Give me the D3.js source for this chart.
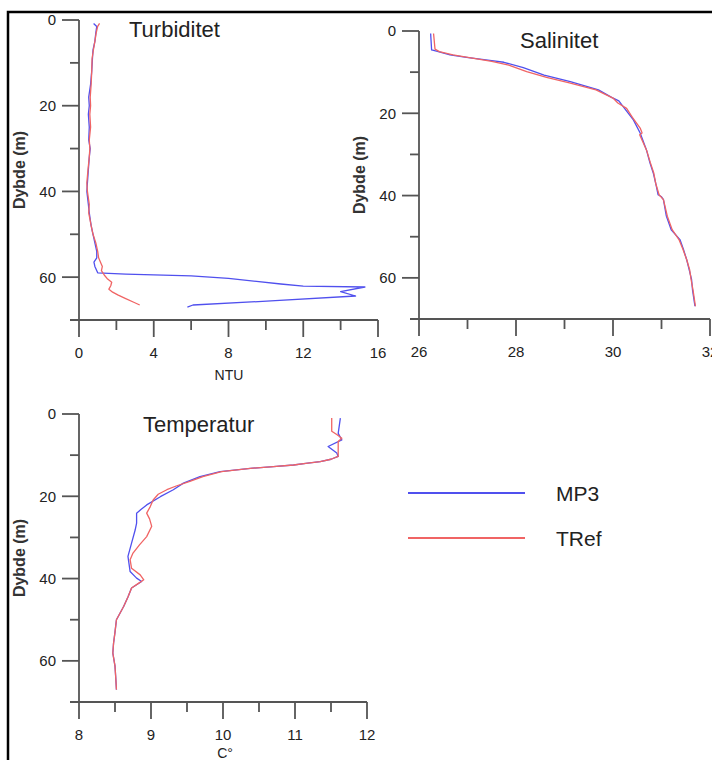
<!DOCTYPE html>
<html>
<head>
<meta charset="utf-8">
<script src="https://cdn.jsdelivr.net/npm/d3@7"></script>
<style>
body { margin: 0; background: #fff; }
text { font-family: "Liberation Sans", Arial, sans-serif; fill: #222; }
</style>
</head>
<body>
<div id="chart"></div>
<script>
// series names
var seriesNames = ["MP3", "TRef"]
var seriesColors = ["#5050ee", "#f06464"]

// Turbiditet (NTU) - depth in m
var turbDepthMP3 = [0.8,1.5,3,5,7,9,12,15,18,20,22,25,28,30,32,35,38,40,43,45,48,50,52,54,55.5,56.5,57.5,59.0,59.3,59.7,60.3,61.0,61.6,62.1,62.3,63.4,64.4,65.5,66.5,67.0]
var turbMP3 = [0.78,0.95,0.9,0.85,0.75,0.72,0.68,0.62,0.52,0.55,0.5,0.55,0.52,0.6,0.55,0.5,0.45,0.42,0.5,0.55,0.65,0.75,0.85,0.95,0.95,0.8,0.85,1.0,2.5,6.0,8.0,9.5,10.8,12.0,15.3,14.0,14.8,10.5,6.1,5.8]
var turbDepthTRef = [0.8,1.5,3,5,7,9,12,15,18,20,22,25,28,30,32,35,38,40,43,45,48,50,52,54,55.5,56.5,57.5,58.5,59.5,60.3,61.2,62,62.8,63.5,64.2,65,65.8,66.5]
var turbTRef = [1.1,1.0,0.92,0.85,0.77,0.7,0.68,0.65,0.6,0.62,0.58,0.62,0.55,0.58,0.55,0.48,0.42,0.45,0.55,0.52,0.65,0.75,0.9,1.0,1.05,1.15,1.25,1.2,1.35,1.5,1.75,1.7,1.6,1.8,2.1,2.5,2.9,3.25]

// Salinitet
var salDepthMP3 = [0.6,4.6,4.9,5.8,6.4,7.2,7.6,8.9,10.7,12.3,14.3,16.2,17.0,18.4,21.6,24.8,28.9,32,34.5,37,39.8,40.3,41,45,48.3,50.7,53,55.6,58,60.4,63,66.9]
var salMP3 = [26.24,26.26,26.36,26.64,26.98,27.5,27.75,28.15,28.58,29.12,29.7,29.98,30.12,30.21,30.42,30.56,30.69,30.76,30.83,30.88,30.93,31.0,31.04,31.1,31.2,31.38,31.45,31.52,31.57,31.62,31.64,31.69]
var salDepthTRef = [0.6,4.4,5.0,5.8,6.6,7.4,8.3,9.9,11.3,12.6,14.3,16.3,17.5,18.8,21,23.6,24.8,25.2,28.9,32,34.5,37,39.8,41,45,48.3,50.7,53,55.6,58,60.4,63,66.9]
var salTRef = [26.3,26.33,26.42,26.7,27.1,27.5,27.85,28.22,28.63,29.1,29.65,30.0,30.1,30.28,30.4,30.56,30.6,30.55,30.69,30.77,30.84,30.88,30.95,31.04,31.12,31.22,31.36,31.44,31.52,31.58,31.61,31.65,31.7]

// Temperatur
var tempDepthMP3 = [1.0,4.7,6.3,7.9,9.5,10.3,11.0,11.6,12.0,12.4,12.8,13.2,14.0,15.2,16.8,18.4,20.1,22.1,23.2,24.1,26.5,28.2,31.4,34.6,38.3,39.9,40.7,41.5,42.3,44.5,46.8,50,53,55.7,58.1,61.3,64,67]
var tempMP3 = [11.63,11.6,11.65,11.46,11.58,11.6,11.5,11.35,11.15,10.98,10.7,10.38,9.96,9.68,9.45,9.31,9.13,8.94,8.86,8.8,8.8,8.78,8.73,8.68,8.71,8.8,8.87,8.8,8.73,8.68,8.62,8.52,8.5,8.48,8.47,8.5,8.51,8.52]
var tempDepthTRef = [1.0,4.2,5.0,5.9,6.7,10.3,11.0,11.6,12.0,12.4,12.8,13.2,14.0,15.2,16.4,17.5,18.4,19.5,20.9,22.5,24.1,25.5,27.3,29.8,31.8,33.8,35.4,37.5,39.1,40.3,41.1,42.3,44.5,46.8,50,53,55.7,58.1,61.3,64,67]
var tempTRef = [11.51,11.51,11.58,11.65,11.6,11.6,11.5,11.35,11.15,10.98,10.7,10.38,9.98,9.72,9.54,9.35,9.22,9.1,9.03,8.99,8.94,8.98,9.01,8.94,8.84,8.75,8.71,8.73,8.85,8.9,8.83,8.73,8.68,8.62,8.52,8.5,8.48,8.47,8.5,8.51,8.52]

// axis ticks
var depthMajor = [0, 20, 40, 60]
var depthMinor = [10, 30, 50]
var turbMajor = [0, 4, 8, 12, 16]
var turbMinor = [2, 6, 10, 14]
var salMajor = [26, 28, 30, 32]
var salMinor = [27, 29, 31]
var tempMajor = [8, 9, 10, 11, 12]
var tempMinor = [8.5, 9.5, 10.5, 11.5]

var width = 712
var height = 760

var svg = d3.select("#chart").append("svg")
    .attr("width", width)
    .attr("height", height)

// frame
svg.append("path")
  .attr("d", "M8,760 L8,12 L712,12")
  .attr("fill", "none")
  .attr("stroke", "#000")
  .attr("stroke-width", 2.5)

var panels = [
  { title: "Turbiditet", titleX: 129, titleY: 37, x0: 79, x1: 378, y0: 20, y1: 320, dom: [0, 16],
    major: turbMajor, minor: turbMinor, xlabel: "NTU", xlabelX: 229, xlabelY: 380, ylabelX: 25,
    series: [[turbDepthMP3, turbMP3], [turbDepthTRef, turbTRef]] },
  { title: "Salinitet", titleX: 520, titleY: 48, x0: 419, x1: 710, y0: 31, y1: 319, dom: [26, 32],
    major: salMajor, minor: salMinor, xlabel: null, ylabelX: 365,
    series: [[salDepthMP3, salMP3], [salDepthTRef, salTRef]] },
  { title: "Temperatur", titleX: 143, titleY: 432, x0: 79, x1: 367, y0: 414, y1: 702, dom: [8, 12],
    major: tempMajor, minor: tempMinor, xlabel: "C°", xlabelX: 225, xlabelY: 758, ylabelX: 25,
    series: [[tempDepthMP3, tempMP3], [tempDepthTRef, tempTRef]] }
]

var axisColor = "#555"

panels.forEach(function(p) {
  var x = d3.scaleLinear().domain(p.dom).range([p.x0, p.x1])
  var y = d3.scaleLinear().domain([0, 70]).range([p.y0, p.y1])
  var g = svg.append("g")

  // y axis line
  g.append("line")
    .attr("x1", p.x0).attr("x2", p.x0)
    .attr("y1", y(0)).attr("y2", y(70))
    .attr("stroke", axisColor).attr("stroke-width", 1.8)
  // x axis line (runs a bit past the y axis, surfer style)
  g.append("line")
    .attr("x1", p.x0 - 9).attr("x2", p.x1)
    .attr("y1", y(70)).attr("y2", y(70))
    .attr("stroke", axisColor).attr("stroke-width", 1.8)

  g.selectAll(".ymaj").data(depthMajor).enter().append("line")
    .attr("x1", p.x0 - 17).attr("x2", p.x0)
    .attr("y1", d => y(d)).attr("y2", d => y(d))
    .attr("stroke", axisColor).attr("stroke-width", 1.8)
  g.selectAll(".ymin").data(depthMinor).enter().append("line")
    .attr("x1", p.x0 - 9).attr("x2", p.x0)
    .attr("y1", d => y(d)).attr("y2", d => y(d))
    .attr("stroke", axisColor).attr("stroke-width", 1.8)
  g.selectAll(".ylab").data(depthMajor).enter().append("text")
    .attr("x", p.x0 - 23).attr("y", d => y(d))
    .attr("dy", "0.36em")
    .attr("text-anchor", "end")
    .style("font-size", "15px")
    .text(d => d)

  g.selectAll(".xmaj").data(p.major).enter().append("line")
    .attr("x1", d => x(d)).attr("x2", d => x(d))
    .attr("y1", y(70)).attr("y2", y(70) + 17)
    .attr("stroke", axisColor).attr("stroke-width", 1.8)
  g.selectAll(".xmin").data(p.minor).enter().append("line")
    .attr("x1", d => x(d)).attr("x2", d => x(d))
    .attr("y1", y(70)).attr("y2", y(70) + 10)
    .attr("stroke", axisColor).attr("stroke-width", 1.8)
  g.selectAll(".xlab").data(p.major).enter().append("text")
    .attr("x", d => x(d)).attr("y", y(70) + 33)
    .attr("dy", "0.36em")
    .attr("text-anchor", "middle")
    .style("font-size", "15px")
    .text(d => d)

  if (p.xlabel) {
    g.append("text")
      .attr("x", p.xlabelX).attr("y", p.xlabelY)
      .attr("text-anchor", "middle")
      .style("font-size", "14px")
      .text(p.xlabel)
  }

  g.append("text")
    .attr("transform", "translate(" + p.ylabelX + "," + ((p.y0 + p.y1) / 2) + ") rotate(-90)")
    .attr("text-anchor", "middle")
    .style("font-size", "16px")
    .style("font-weight", "bold")
    .style("fill", "#333")
    .text("Dybde (m)")

  g.append("text")
    .attr("x", p.titleX).attr("y", p.titleY)
    .style("font-size", "22px")
    .text(p.title)

  var line = d3.line()
    .x(d => x(d[1]))
    .y(d => y(d[0]))

  p.series.forEach(function(s, i) {
    var pts = s[0].map((dep, k) => [dep, s[1][k]])
    g.append("path")
      .datum(pts)
      .attr("d", line)
      .attr("fill", "none")
      .attr("stroke", seriesColors[i])
      .attr("stroke-width", 1.3)
      .attr("stroke-linejoin", "round")
  })
})

// legend
var legend = svg.selectAll(".legend").data(seriesNames)
  .enter().append("g")
  .attr("transform", function(d, i) { return "translate(0," + (493 + i * 45) + ")"; })
legend.append("line")
  .attr("x1", 408).attr("x2", 525)
  .attr("y1", 0).attr("y2", 0)
  .attr("stroke", (d, i) => seriesColors[i])
  .attr("stroke-width", 2.2)
legend.append("text")
  .attr("x", 556).attr("y", 8)
  .style("font-size", "21px")
  .text(d => d)
</script>
</body>
</html>
